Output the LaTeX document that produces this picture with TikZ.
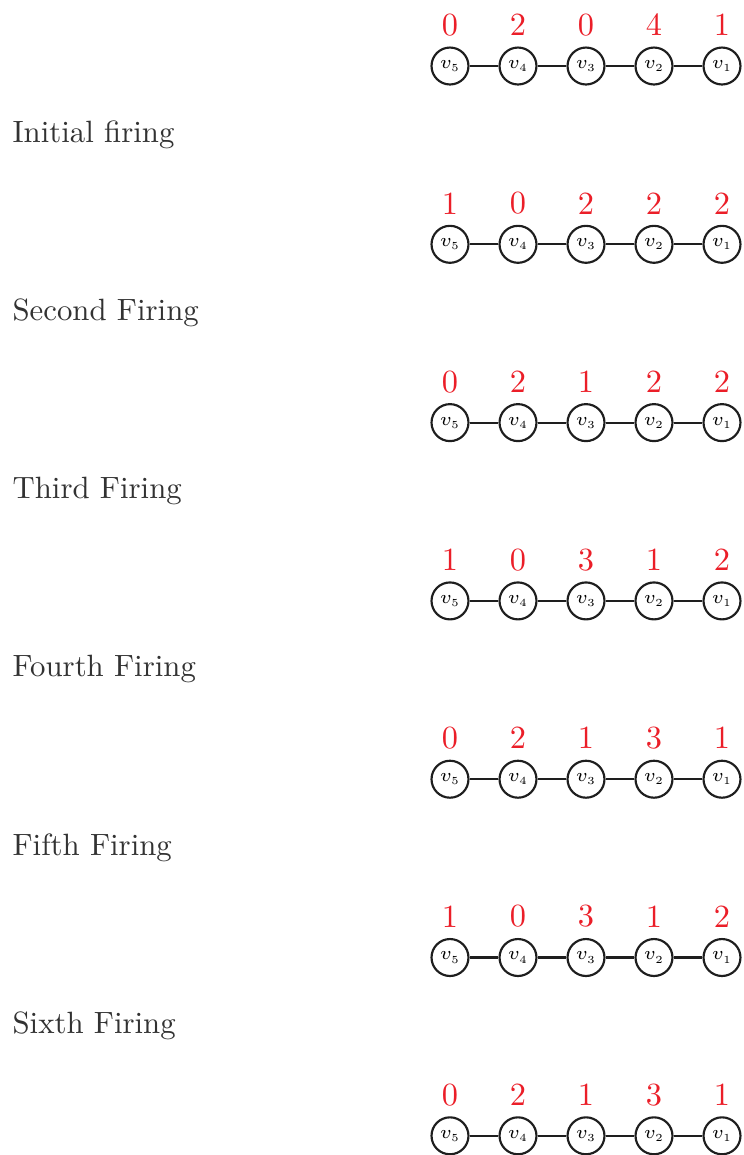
\documentclass[tikz,border=0pt]{standalone}
\usepackage{xcolor}
\usepackage{graphicx}
\definecolor{numred}{RGB}{235,30,40}
\definecolor{txtgray}{RGB}{50,50,50}
\definecolor{linegray}{RGB}{30,30,30}
\newcommand{\vsub}[1]{$v_{\scalebox{0.7}{$\scriptstyle #1$}}$}
\begin{document}
\begin{tikzpicture}[x=0.3247pt,y=-0.3247pt,
  vert/.style={circle,draw=linegray,line width=0.7pt,minimum size=12pt,inner sep=0pt,font=\fontsize{6}{7}\selectfont},
  num/.style={text=numred,inner sep=0pt,font=\fontsize{10.5}{12}\selectfont},
  lab/.style={text=txtgray,anchor=base west,inner sep=0pt},
  edge/.style={draw=linegray,line width=0.7pt}]
\useasboundingbox (0,0) rectangle (744,1155);
\foreach \r/\a/\b/\c/\d/\e in {0/0/2/0/4/1,1/1/0/2/2/2,2/0/2/1/2/2,3/1/0/3/1/2,4/0/2/1/3/1,5/1/0/3/1/2,6/0/2/1/3/1}{
  \pgfmathsetmacro\yy{66+178.3*\r}
  \pgfmathsetmacro\ny{\yy-41}
  \node[vert] (r\r-v5) at (450,\yy) {\vsub{5}};
  \node[vert] (r\r-v4) at (518,\yy) {\vsub{4}};
  \node[vert] (r\r-v3) at (586,\yy) {\vsub{3}};
  \node[vert] (r\r-v2) at (654,\yy) {\vsub{2}};
  \node[vert] (r\r-v1) at (722,\yy) {\vsub{1}};
  \node[num] (r\r-n5) at (450,\ny) {\a};
  \node[num] (r\r-n4) at (518,\ny) {\b};
  \node[num] (r\r-n3) at (586,\ny) {\c};
  \node[num] (r\r-n2) at (654,\ny) {\d};
  \node[num] (r\r-n1) at (722,\ny) {\e};
  \draw[edge] (r\r-v5) -- (r\r-v4);
  \draw[edge] (r\r-v4) -- (r\r-v3);
  \draw[edge] (r\r-v3) -- (r\r-v2);
  \draw[edge] (r\r-v2) -- (r\r-v1);
}
\node[lab] (l1) at (12,142) {Initial firing};
\node[lab] (l2) at (12,320.3) {Second Firing};
\node[lab] (l3) at (12,498.6) {Third Firing};
\node[lab] (l4) at (12,676.9) {Fourth Firing};
\node[lab] (l5) at (12,855.2) {Fifth Firing};
\node[lab] (l6) at (12,1033.5) {Sixth Firing};
\end{tikzpicture}
\end{document}
